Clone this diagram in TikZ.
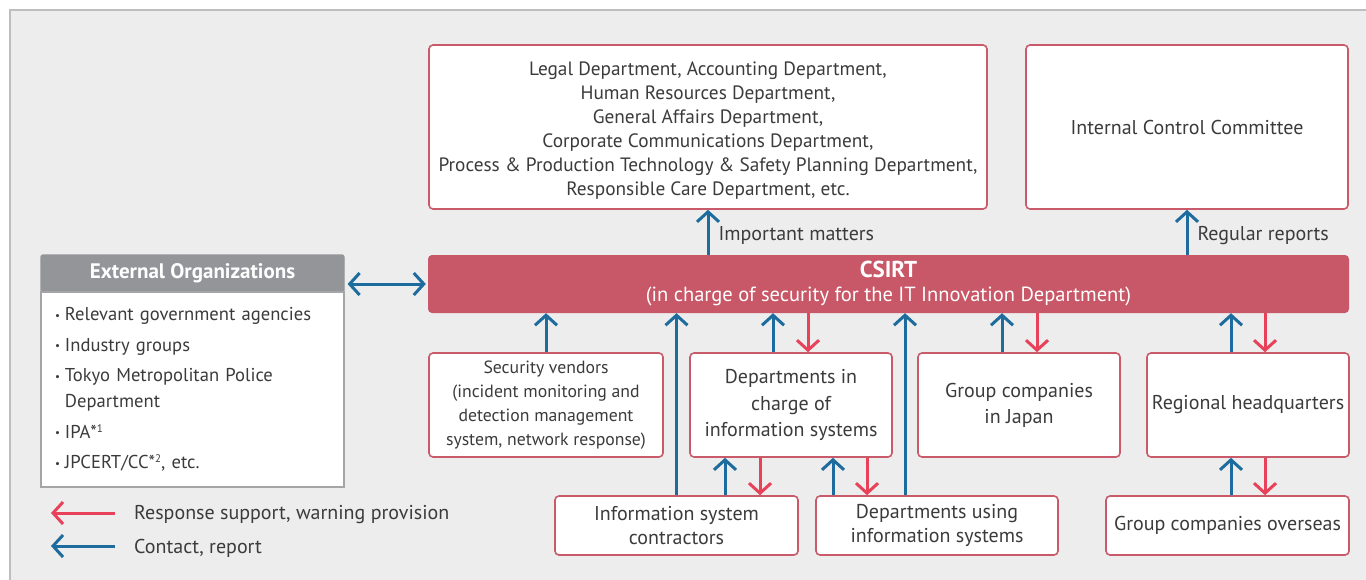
\documentclass[tikz,border=0pt]{standalone}
\usepackage{fontspec}
\setmainfont{PT Sans}
\usetikzlibrary{arrows.meta,calc}

\definecolor{PanelGray}{HTML}{EDEDED}
\definecolor{PanelLine}{HTML}{BEBEBE}
\definecolor{BoxRed}{HTML}{C95A6A}
\definecolor{CsirtRed}{HTML}{C85767}
\definecolor{ArrowRed}{HTML}{E8425B}
\definecolor{ArrowBlue}{HTML}{1D6C9D}
\definecolor{HeadGray}{HTML}{939598}
\definecolor{TextGray}{HTML}{3B3B3B}

\tikzset{
  BoxStyle/.style={draw=BoxRed, line width=1.6pt, fill=white, rounded corners=4pt,
    align=center, text=TextGray, inner sep=0pt, font=\fontsize{20}{24}\selectfont},
  UpArrow/.style={draw=ArrowBlue, line width=3pt, -{Straight Barb[length=10pt,width=22pt]}},
  DownArrow/.style={draw=ArrowRed, line width=3pt, -{Straight Barb[length=10pt,width=22pt]}},
  LabelStyle/.style={text=TextGray, font=\fontsize{20}{24}\selectfont, inner sep=2pt}
}

\begin{document}
\begin{tikzpicture}[x=1pt,y=-1pt]
  \useasboundingbox (0,0) rectangle (1366,579);
  \fill[white] (0,0) rectangle (1366,579);
  \draw[PanelLine, fill=PanelGray, line width=1.2pt] (10,10) rectangle (1375,590);

  % upper boxes
  \node[BoxStyle, minimum width=558pt, minimum height=164pt, font=\fontsize{19.3}{24}\selectfont] (legal) at (708,127)
    {\\[-4pt]Legal Department, Accounting Department,\\ Human Resources Department,\\ General Affairs Department,\\
     Corporate Communications Department,\\ Process \& Production Technology \& Safety Planning Department,\\
     Responsible Care Department, etc.};
  \node[BoxStyle, minimum width=322pt, minimum height=164pt] (icc) at (1187,127) {Internal Control Committee};

  % CSIRT bar
  \node[fill=CsirtRed, rounded corners=4pt, minimum width=921pt, minimum height=58pt, inner sep=0pt,
        text=white, align=center, font=\fontsize{20.5}{24}\selectfont] (csirt) at (888.5,284)
    {{\fontsize{23}{24}\selectfont\bfseries CSIRT}\\
     (in charge of security for the IT Innovation Department)};

  % external organizations
  \node[fill=HeadGray, draw=HeadGray, line width=1.2pt, rounded corners=2pt, minimum width=303pt,
        minimum height=37pt, inner sep=0pt, text=white,
        font=\fontsize{21}{24}\selectfont\bfseries] (exthead) at (192.5,273.5) {External Organizations};
  \node[draw=HeadGray!85, fill=white, line width=1.2pt, minimum width=303pt, minimum height=195pt,
        text width=275pt, inner xsep=14pt, inner ysep=0pt, align=left, text=TextGray,
        font=\fontsize{18.6}{26}\selectfont] (extbody) at (192.5,389.5)
    {\begin{tabular}{@{}l@{\hspace{5pt}}l@{}}
      \raisebox{1.5pt}{\fontsize{11}{11}\selectfont\textbullet} & Relevant government agencies\\[4.5pt]
      \raisebox{1.5pt}{\fontsize{11}{11}\selectfont\textbullet} & Industry groups\\[4.5pt]
      \raisebox{1.5pt}{\fontsize{11}{11}\selectfont\textbullet} & Tokyo Metropolitan Police\\
       & Department\\[4.5pt]
      \raisebox{1.5pt}{\fontsize{11}{11}\selectfont\textbullet} & IPA*\raisebox{6pt}{\fontsize{11}{11}\selectfont 1}\\[4.5pt]
      \raisebox{1.5pt}{\fontsize{11}{11}\selectfont\textbullet} & JPCERT/CC*\raisebox{6pt}{\fontsize{11}{11}\selectfont 2}, etc.
     \end{tabular}};

  % lower boxes
  \node[BoxStyle, minimum width=234pt, minimum height=104pt, font=\fontsize{17.7}{24}\selectfont] (vendors) at (546,405)
    {Security vendors\\ (incident monitoring and\\ detection management\\ system, network response)};
  \node[BoxStyle, minimum width=202pt, minimum height=104pt, font=\fontsize{20}{26.5}\selectfont] (dic) at (791,405)
    {Departments in\\ charge of\\ information systems};
  \node[BoxStyle, minimum width=202pt, minimum height=104pt, font=\fontsize{20}{26}\selectfont] (gcj) at (1019,405)
    {Group companies\\ in Japan};
  \node[BoxStyle, minimum width=202pt, minimum height=104pt] (rhq) at (1248,405) {Regional headquarters};
  \node[BoxStyle, minimum width=243pt, minimum height=59pt] (isc) at (676.5,525.5)
    {Information system\\ contractors};
  \node[BoxStyle, minimum width=242pt, minimum height=59pt] (dui) at (937,525.5)
    {Departments using\\ information systems};
  \node[BoxStyle, minimum width=243pt, minimum height=59pt] (gco) at (1227.5,525.5) {Group companies overseas};

  % reports upward
  \draw[UpArrow] (csirt.north -| legal.south) -- node[LabelStyle, right, xshift=7pt, yshift=-3pt] {Important matters} (legal.south);
  \draw[UpArrow] (csirt.north -| icc.south) -- node[LabelStyle, right, xshift=7pt, yshift=-3pt] {Regular reports} (icc.south);
  \draw[ArrowBlue, line width=3pt, {Straight Barb[length=10pt,width=22pt]}-{Straight Barb[length=10pt,width=22pt]}]
    ([xshift=3pt]csirt.west -| exthead.east) -- ([xshift=-2pt]csirt.west);

  % contact and support
  \draw[UpArrow] (vendors.north) -- (vendors.north |- csirt.south);
  \draw[UpArrow] ([xshift=-18pt]dic.north) -- ([xshift=-18pt]dic.north |- csirt.south);
  \draw[DownArrow] ([xshift=17pt]dic.north |- csirt.south) -- ([xshift=17pt]dic.north);
  \draw[UpArrow] ([xshift=-17pt]gcj.north) -- ([xshift=-17pt]gcj.north |- csirt.south);
  \draw[DownArrow] ([xshift=18pt]gcj.north |- csirt.south) -- ([xshift=18pt]gcj.north);
  \draw[UpArrow] ([xshift=-17pt]rhq.north) -- ([xshift=-17pt]rhq.north |- csirt.south);
  \draw[DownArrow] ([xshift=17pt]rhq.north |- csirt.south) -- ([xshift=17pt]rhq.north);

  \draw[UpArrow] (isc.north) -- (isc.north |- csirt.south);
  \draw[UpArrow] ([xshift=-32pt]dui.north) -- ([xshift=-32pt]dui.north |- csirt.south);
  \draw[UpArrow] ([xshift=-66pt]dic.south |- isc.north) -- ([xshift=-66pt]dic.south);
  \draw[DownArrow] ([xshift=-31pt]dic.south) -- ([xshift=-31pt]dic.south |- isc.north);
  \draw[UpArrow] ([xshift=42pt]dic.south |- dui.north) -- ([xshift=42pt]dic.south);
  \draw[DownArrow] ([xshift=76pt]dic.south) -- ([xshift=76pt]dic.south |- dui.north);
  \draw[UpArrow] ([xshift=-17pt]rhq.south |- gco.north) -- ([xshift=-17pt]rhq.south);
  \draw[DownArrow] ([xshift=17pt]rhq.south) -- ([xshift=17pt]rhq.south |- gco.north);

  % legend
  \node[LabelStyle, anchor=west] (legred) at (132,515) {Response support, warning provision};
  \node[LabelStyle, anchor=west] (legblue) at (132,548) {Contact, report};
  \coordinate (legredtip) at (51,513);
  \coordinate (legbluetip) at (51,546);
  \draw[DownArrow] ([xshift=-17pt]legred.west |- legredtip) -- (legredtip);
  \draw[UpArrow] ([xshift=-17pt]legblue.west |- legbluetip) -- (legbluetip);
\end{tikzpicture}
\end{document}
